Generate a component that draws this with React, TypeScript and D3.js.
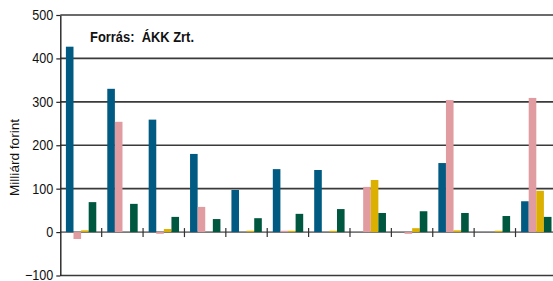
import React, { useRef, useEffect } from "react";
import * as d3 from "d3";

// groups (no labels shown on the x axis)
const groups = ["1", "2", "3", "4", "5", "6", "7", "8", "9", "10", "11", "12"];
const seriesNames = ["s1", "s2", "s3", "s4"];
const colors = ["#005a82", "#e09ca0", "#dcb000", "#00573f"];

// values, milliárd forint
const blue = [427, 330, 259, 180, 97, 145, 143, 0, 0, 159, 0, 71];
const pink = [-16, 254, -4, 58, 0, 3, 0, 104, -4, 304, 0, 309];
const yellow = [4, 0, 7, 0, 3, 3, 3, 120, 9, 4, 3, 95];
const green = [69, 65, 35, 30, 32, 42, 53, 44, 48, 44, 37, 35];

const yTicks = [-100, 0, 100, 200, 300, 400, 500];

const font = "'Liberation Sans', Arial, sans-serif";

const App = () => {
  const ref = useRef<SVGSVGElement>(null);

  useEffect(() => {
    const svg = d3.select(ref.current);
    svg.selectAll("*").remove();

    const margin = { top: 15, left: 60.3 };
    const plotW = 496.6;
    const plotH = 260.5;

    const g = svg.append("g").attr("transform", `translate(${margin.left},${margin.top})`);

    const x = d3.scaleBand().domain(groups).range([0, plotW]).paddingInner(0).paddingOuter(0);
    const xInner = d3
      .scaleBand()
      .domain(seriesNames)
      .range([5.6, x.bandwidth() - 5.4])
      .padding(0);
    const y = d3.scaleLinear().domain([-100, 500]).range([plotH, 0]);

    // gridlines
    g.append("g")
      .selectAll("line")
      .data(yTicks)
      .join("line")
      .attr("x1", 0)
      .attr("x2", plotW)
      .attr("y1", (d) => y(d))
      .attr("y2", (d) => y(d))
      .attr("stroke", (d) => (d === 0 ? "#7a7a7a" : "#3a3a3a"))
      .attr("stroke-width", 1.6);

    // y axis
    const yAxis = g
      .append("g")
      .call(d3.axisLeft(y).tickValues(yTicks).tickSize(4).tickSizeOuter(0).tickPadding(3));
    yAxis.select(".domain").attr("stroke", "#222").attr("stroke-width", 1.4);
    yAxis.selectAll(".tick line").attr("stroke", "#222").attr("stroke-width", 1.2);
    yAxis
      .selectAll(".tick text")
      .attr("font-family", font)
      .attr("font-size", 14)
      .attr("fill", "#111")
      .attr("x", -7 / 0.9)
      .attr("transform", "scale(0.9,1)");

    const data = [blue, pink, yellow, green];

    // bars
    data.forEach((vals, si) => {
      g.append("g")
        .selectAll("rect")
        .data(vals)
        .join("rect")
        .attr("x", (_, i) => (x(groups[i]) as number) + (xInner(seriesNames[si]) as number))
        .attr("width", xInner.bandwidth())
        .attr("y", (d) => y(Math.max(0, d)))
        .attr("height", (d) => Math.abs(y(d) - y(0)))
        .attr("fill", colors[si]);
    });

    // category ticks on zero line
    g.append("g")
      .selectAll("line")
      .data(groups.slice(1))
      .join("line")
      .attr("x1", (d) => x(d) as number)
      .attr("x2", (d) => x(d) as number)
      .attr("y1", y(0) - 4)
      .attr("y2", y(0) + 5)
      .attr("stroke", "#333")
      .attr("stroke-width", 1.2);

    // source
    svg
      .append("text")
      .attr("x", 90)
      .attr("y", 42)
      .attr("font-family", font)
      .attr("font-weight", "bold")
      .attr("font-size", 14)
      .attr("fill", "#111")
      .attr("xml:space", "preserve")
      .attr("textLength", 104)
      .attr("lengthAdjust", "spacingAndGlyphs")
      .text("Forrás:  ÁKK Zrt.");

    // y label
    svg
      .append("text")
      .attr("transform", "translate(19,157.5) rotate(-90)")
      .attr("text-anchor", "middle")
      .attr("font-family", font)
      .attr("font-size", 13)
      .attr("fill", "#111")
      .attr("textLength", 77)
      .attr("lengthAdjust", "spacingAndGlyphs")
      .text("Milliárd forint");
  }, []);

  return (
    <div style={{ position: "absolute", top: 0, left: 0, width: 553, height: 281, overflow: "hidden" }}>
      <svg ref={ref} width={553} height={281} style={{ display: "block" }}></svg>
    </div>
  );
};

export default App;
